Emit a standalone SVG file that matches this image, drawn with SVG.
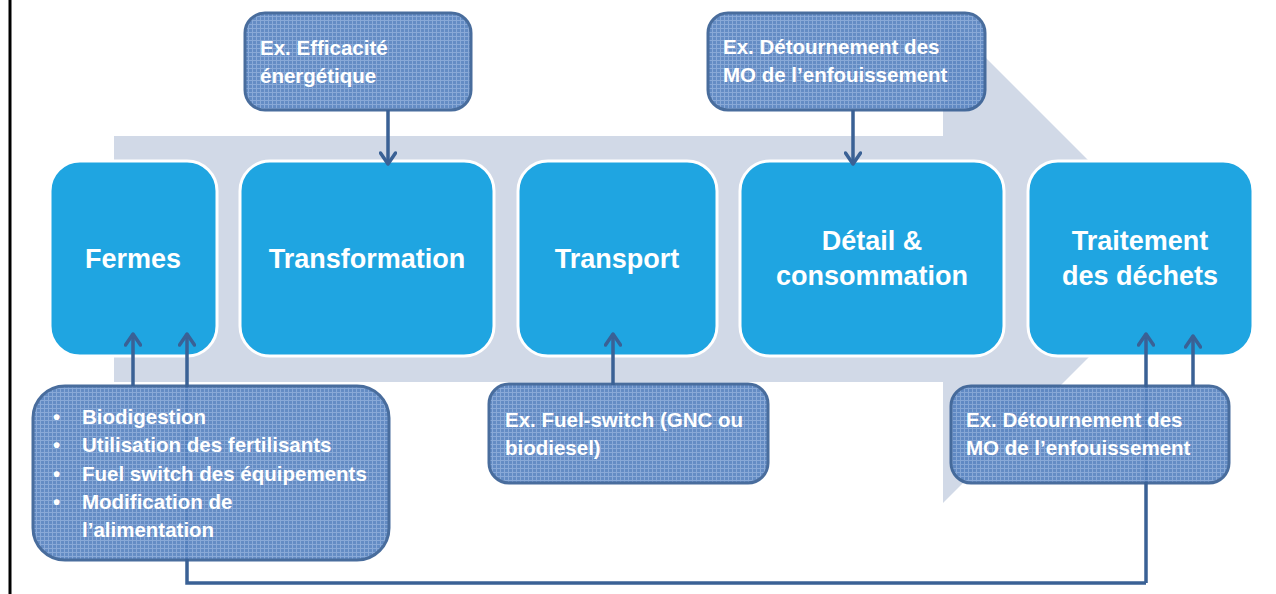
<svg xmlns="http://www.w3.org/2000/svg" width="1276" height="594" viewBox="0 0 1276 594">
<defs>
<pattern id="grid" width="4" height="4" patternUnits="userSpaceOnUse">
<rect width="4" height="4" fill="#5783C0"/>
<rect x="0" y="0" width="4" height="1" fill="#7FA2D4"/>
<rect x="0" y="0" width="1" height="4" fill="#7FA2D4"/>
</pattern>
<marker id="ah" viewBox="0 0 18 18" markerWidth="18" markerHeight="18" refX="14" refY="9" orient="auto" markerUnits="userSpaceOnUse">
<path d="M3,1.5 L14,9 L3,16.5" fill="none" stroke="#3A6195" stroke-width="3.5" stroke-linecap="round" stroke-linejoin="round"/>
</marker>
</defs>
<style>
.node{fill:#1FA5E1;stroke:#FFFFFF;stroke-width:3}
.nt{font-family:"Liberation Sans",Arial,sans-serif;font-weight:bold;font-size:27px;fill:#FFFFFF;text-anchor:middle}
.call{fill:url(#grid);stroke:#3A6195;stroke-width:3;opacity:0.92}
.ct{font-family:"Liberation Sans",Arial,sans-serif;font-weight:bold;font-size:20.5px;fill:#FFFFFF}
.con{fill:none;stroke:#3A6195;stroke-width:3.5}
</style>
<rect width="1276" height="594" fill="#FFFFFF"/>
<line x1="10" y1="0" x2="10" y2="594" stroke="#000000" stroke-width="3"/>
<polygon id="background-arrow" points="114,136 943,136 943,15 1187,259 943,503 943,382 114,382" fill="#D1D9E7"/>
<g id="fermes"><rect class="node" x="50" y="161" width="167" height="195" rx="30"/><text class="nt" x="133" y="268">Fermes</text></g>
<g id="transformation"><rect class="node" x="240" y="161" width="254" height="195" rx="30"/><text class="nt" x="367" y="268">Transformation</text></g>
<g id="transport"><rect class="node" x="518" y="161" width="199" height="195" rx="30"/><text class="nt" x="617" y="268">Transport</text></g>
<g id="detail"><rect class="node" x="740" y="161" width="264" height="195" rx="30"/><text class="nt" x="872" y="250">Détail &amp;</text><text class="nt" x="872" y="285">consommation</text></g>
<g id="traitement"><rect class="node" x="1028" y="161" width="225" height="195" rx="30"/><text class="nt" x="1140" y="250">Traitement</text><text class="nt" x="1140" y="285">des déchets</text></g>
<g id="connectors">
<line class="con" x1="388" y1="110" x2="388" y2="164" marker-end="url(#ah)"/>
<line class="con" x1="853" y1="110" x2="853" y2="164" marker-end="url(#ah)"/>
<line class="con" x1="133" y1="386" x2="133" y2="334" marker-end="url(#ah)"/>
<polyline class="con" points="1146,583 187,583 187,334" marker-end="url(#ah)"/>
<line class="con" x1="1146" y1="583" x2="1146" y2="334" marker-end="url(#ah)"/>
<line class="con" x1="613" y1="385" x2="613" y2="334" marker-end="url(#ah)"/>
<line class="con" x1="1193" y1="386" x2="1193" y2="336" marker-end="url(#ah)"/>
</g>
<g id="callout-efficacite"><rect class="call" x="245" y="13" width="226" height="97" rx="20"/><text class="ct" x="260" y="55">Ex. Efficacité</text><text class="ct" x="260" y="83">énergétique</text></g>
<g id="callout-detail"><rect class="call" x="708" y="13" width="277" height="97" rx="20"/><text class="ct" x="723" y="54">Ex. Détournement des</text><text class="ct" x="723" y="82">MO de l’enfouissement</text></g>
<g id="callout-fermes"><rect class="call" x="33" y="386" width="356" height="174" rx="32"/>
<text class="ct" x="53" y="424">•</text><text class="ct" x="82" y="424">Biodigestion</text>
<text class="ct" x="53" y="452">•</text><text class="ct" x="82" y="452">Utilisation des fertilisants</text>
<text class="ct" x="53" y="481">•</text><text class="ct" x="82" y="481">Fuel switch des équipements</text>
<text class="ct" x="53" y="509">•</text><text class="ct" x="82" y="509">Modification de</text>
<text class="ct" x="82" y="537">l’alimentation</text></g>
<g id="callout-transport"><rect class="call" x="489" y="384" width="279" height="99" rx="20"/><text class="ct" x="505" y="427">Ex. Fuel-switch (GNC ou</text><text class="ct" x="505" y="455">biodiesel)</text></g>
<g id="callout-traitement"><rect class="call" x="951" y="386" width="278" height="97" rx="20"/><text class="ct" x="966" y="427">Ex. Détournement des</text><text class="ct" x="966" y="455">MO de l’enfouissement</text></g>
</svg>
